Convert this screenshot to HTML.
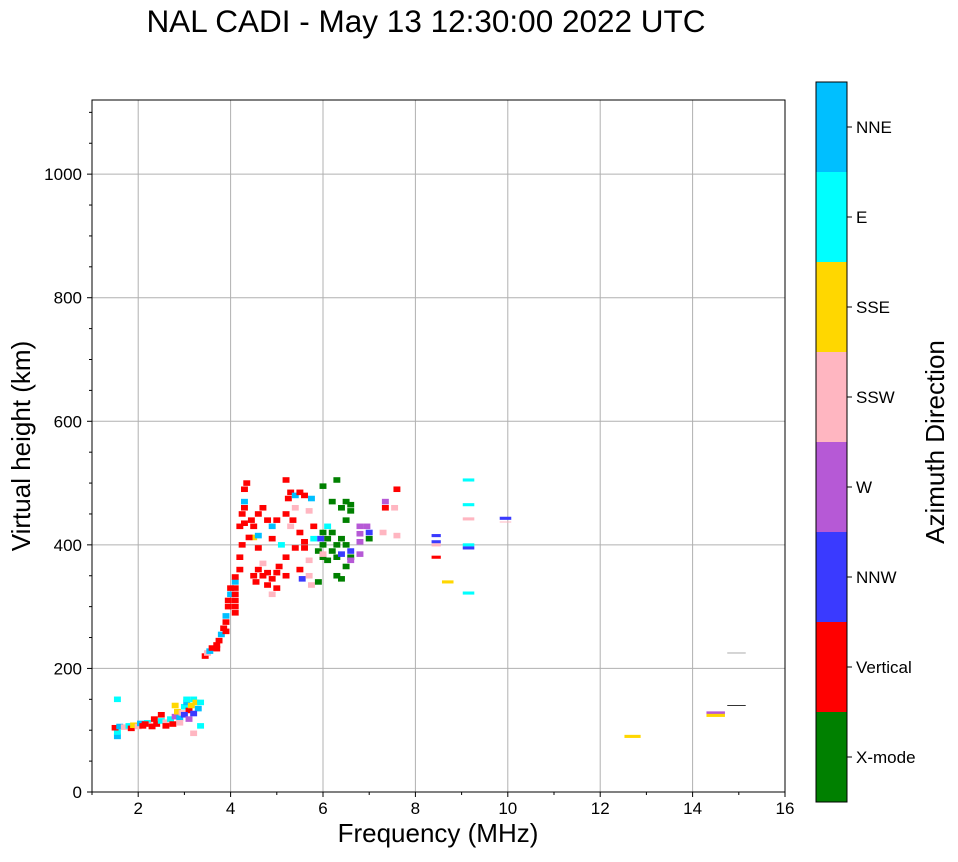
<!DOCTYPE html>
<html><head><meta charset="utf-8"><style>
body{margin:0;background:#fff;font-family:"Liberation Sans",sans-serif}
svg text{font-family:"Liberation Sans",sans-serif}
</style></head><body>
<svg id="chart" width="958" height="857" xmlns="http://www.w3.org/2000/svg">
<text x="426" y="32" font-size="31.5" text-anchor="middle">NAL CADI - May 13 12:30:00 2022 UTC</text>
<g id="grid"></g>
<g id="marks"></g>
<rect x="92" y="100" width="693" height="692" fill="none" stroke="#000" stroke-width="1"/>
<g id="axes"></g>
<text x="438" y="842" font-size="26" text-anchor="middle">Frequency (MHz)</text>
<text transform="translate(30,446) rotate(-90)" font-size="26" text-anchor="middle">Virtual height (km)</text>
<g id="cbar"></g>
<text transform="translate(944,442) rotate(-90)" font-size="26" text-anchor="middle">Azimuth Direction</text>
</svg>
<script>
const dirLabels=["X-mode","Vertical","NNW","W","SSW","SSE","E","NNE"];
const dirColors=["#008000","#ff0000","#3a3aff","#b659d6","#ffb6c1","#ffd700","#00ffff","#00bfff"];
const xTicks=[2,4,6,8,10,12,14,16];
const yTicks=[0,200,400,600,800,1000];
const echoes=[
[1.55,150,6],[1.55,90,7],[1.55,97,6],[1.5,104,1],[1.6,106,7],[1.7,105,4],[1.8,107,6],[1.85,103,1],[1.9,108,5],[2.0,106,4],[2.05,111,7],[2.1,107,1],[2.2,112,6],[2.3,108,4],[2.35,118,1],[2.4,110,1],[2.5,115,6],[2.5,125,1],[2.6,113,4],[2.7,118,6],[2.75,110,1],[2.8,122,3],[2.85,130,5],[2.9,120,7],[2.95,128,4],[3.0,138,6],[3.05,145,7],[3.1,132,1],[3.15,140,5],[3.2,150,6],[3.25,145,5],[3.3,135,7],[3.35,145,6],[2.3,106,1],[2.15,110,1],[2.6,107,1],[2.9,112,4],[3.0,125,2],[3.1,118,3],[3.35,107,6],[3.2,95,4],[3.05,150,6],[2.8,140,5],[3.2,127,2],
[3.45,220,1],[3.5,225,4],[3.55,228,7],[3.6,233,1],[3.7,238,1],[3.75,245,1],[3.8,255,7],[3.85,265,1],[3.9,275,1],[3.9,285,7],[3.95,300,1],[3.95,310,1],[4.0,320,7],[4.0,330,1],[3.9,260,1],[3.7,232,1],
[4.1,290,1],[4.1,300,1],[4.1,310,1],[4.1,320,1],[4.1,330,1],[4.1,340,7],[4.1,348,1],
[4.2,360,1],[4.2,380,1],[4.25,400,1],[4.2,430,1],[4.3,435,1],[4.25,450,1],[4.3,470,7],[4.3,490,1],[4.35,500,1],[4.3,460,1],[4.45,440,1],[4.5,430,1],[4.5,412,5],[4.6,415,7],[4.4,412,1],[4.6,395,1],[4.5,350,1],[4.55,340,1],[4.6,360,1],[4.7,350,1],[4.8,355,1],[4.8,335,1],[4.9,345,1],[5.0,330,1],[5.0,355,1],[5.05,365,1],[4.7,370,4],[4.9,320,4],[5.2,350,1],[5.2,380,1],[5.1,400,6],[4.9,410,1],[4.9,430,7],[5.0,440,1],[4.8,440,1],[4.6,450,1],[4.7,460,1],[5.2,450,1],[5.25,475,1],[5.3,485,1],[5.2,505,1],[5.4,480,7],[5.5,485,1],[5.4,460,4],[5.35,440,1],[5.5,420,1],[5.4,395,1],[5.6,395,1],[5.5,360,1],[5.55,345,2],[5.7,350,4],[5.75,335,4],[5.7,375,4],[5.6,405,1],[5.8,410,6],[5.8,430,1],[5.75,475,7],[5.6,480,1],[5.7,455,4],[5.3,430,4],
[5.9,340,0],[5.9,390,0],[6.0,380,0],[6.0,400,0],[6.1,410,0],[6.0,420,0],[6.2,420,0],[6.3,400,0],[6.2,390,0],[6.3,380,0],[6.1,375,0],[6.4,410,0],[6.5,400,0],[6.5,440,0],[6.6,455,0],[6.6,465,0],[6.5,470,0],[6.4,460,0],[6.2,470,0],[6.3,505,0],[6.0,495,0],[6.3,350,0],[6.4,345,0],[6.6,380,0],[6.1,430,6],[5.95,410,2],[6.4,385,2],[6.6,390,2],[6.6,375,3],[6.0,385,4],[6.5,365,0],
[6.8,430,3],[6.8,418,3],[6.8,405,3],[6.95,430,3],[7.0,420,2],[7.0,410,0],[6.8,385,3],[7.35,470,3],[7.35,460,1],[7.55,460,4],[7.6,490,1],[7.6,415,4],[7.3,420,4],
[8.45,415,2],[8.45,405,2],[8.45,400,4],[8.45,380,1],[8.7,340,5],[9.15,505,6],[9.15,465,6],[9.15,442,4],[9.15,400,6],[9.15,395,2],[9.15,322,6],[9.95,443,2],[9.95,437,4],[12.7,90,5],[14.5,128,3],[14.5,124,5],[14.95,140,2],[14.95,225,4]
];
const echoWidths={"12.7":0.35,"14.5":0.4,"14.95":0.4,"9.15":0.25,"9.95":0.25,"8.45":0.2,"8.7":0.25};
const svg=document.getElementById('chart');
const NS="http://www.w3.org/2000/svg";
const X0=92,X1=785,Y0=792,Y1=100,F0=1,F1=16,H0=0,H1=1120;
function xs(f){return X0+(f-F0)/(F1-F0)*(X1-X0);}
function ys(h){return Y0-(h-H0)/(H1-H0)*(Y0-Y1);}
function mk(t,a){const e=document.createElementNS(NS,t);for(const k in a)e.setAttribute(k,a[k]);return e;}
const grid=document.getElementById('grid'),axes=document.getElementById('axes'),marks=document.getElementById('marks'),cbar=document.getElementById('cbar');
xTicks.forEach(v=>{
 const x=xs(v);
 const g=mk('line',{x1:x,x2:x,y1:Y1,y2:Y0,stroke:'#b0b0b0','stroke-width':1});
 
 
 grid.appendChild(g);
 const t=mk('text',{x:x,y:Y0+22,'font-size':17,'text-anchor':'middle'});
 
 
 t.textContent=v;axes.appendChild(t);
});
for(let v=1;v<=16;v++){const x=xs(v);const l=mk('line',{x1:x,x2:x,y1:Y0,y2:Y0+(v%2?3:5),stroke:'#000'});
 
 
 axes.appendChild(l);}
yTicks.forEach(v=>{
 const y=ys(v);
 const g=mk('line',{x1:X0,x2:X1,y1:y,y2:y,stroke:'#b0b0b0','stroke-width':1});
 
 
 grid.appendChild(g);
 const t=mk('text',{x:X0-10,y:y+6,'font-size':17,'text-anchor':'end'});
 
 
 t.textContent=v;axes.appendChild(t);
});
for(let v=0;v<=1100;v+=50){const y=ys(v);const l=mk('line',{x1:X0,x2:X0-(v%200?3:5),y1:y,y2:y,stroke:'#000'});
 
 
 axes.appendChild(l);}
echoes.forEach(p=>{
 const w=echoWidths[String(p[0])]||0.15;
 const thin=(p[0]>=14.9||p[0]===9.95&&p[2]===4);
 const hh=thin?1.6:(p[0]>8?5:9);
 const r=mk('rect',{x:xs(p[0]-w/2),y:ys(p[1]+hh/2),width:xs(w)-xs(0),height:ys(0)-ys(hh),fill:p[0]>=14.9?(p[2]===2?'#333':'#aaa'):dirColors[p[2]]});
 
 
 marks.appendChild(r);
});
const CX=816,CW=31,CT=82,CB=802,bh=(CB-CT)/dirLabels.length;
dirLabels.forEach((lab,i)=>{
 const y=CB-(i+1)*bh;
 const r=mk('rect',{x:CX,y:y,width:CW,height:bh,fill:dirColors[i]});
 
 
 cbar.appendChild(r);
 const tk=mk('line',{x1:CX+CW,x2:CX+CW+5,y1:y+bh/2,y2:y+bh/2,stroke:'#000'});
 
 
 cbar.appendChild(tk);
 const t=mk('text',{x:CX+CW+9,y:y+bh/2+6,'font-size':17});
 
 
 t.textContent=lab;cbar.appendChild(t);
});
const fr=mk('rect',{x:CX,y:CT,width:CW,height:CB-CT,fill:'none',stroke:'#000'});


cbar.appendChild(fr);
</script>
</body></html>
